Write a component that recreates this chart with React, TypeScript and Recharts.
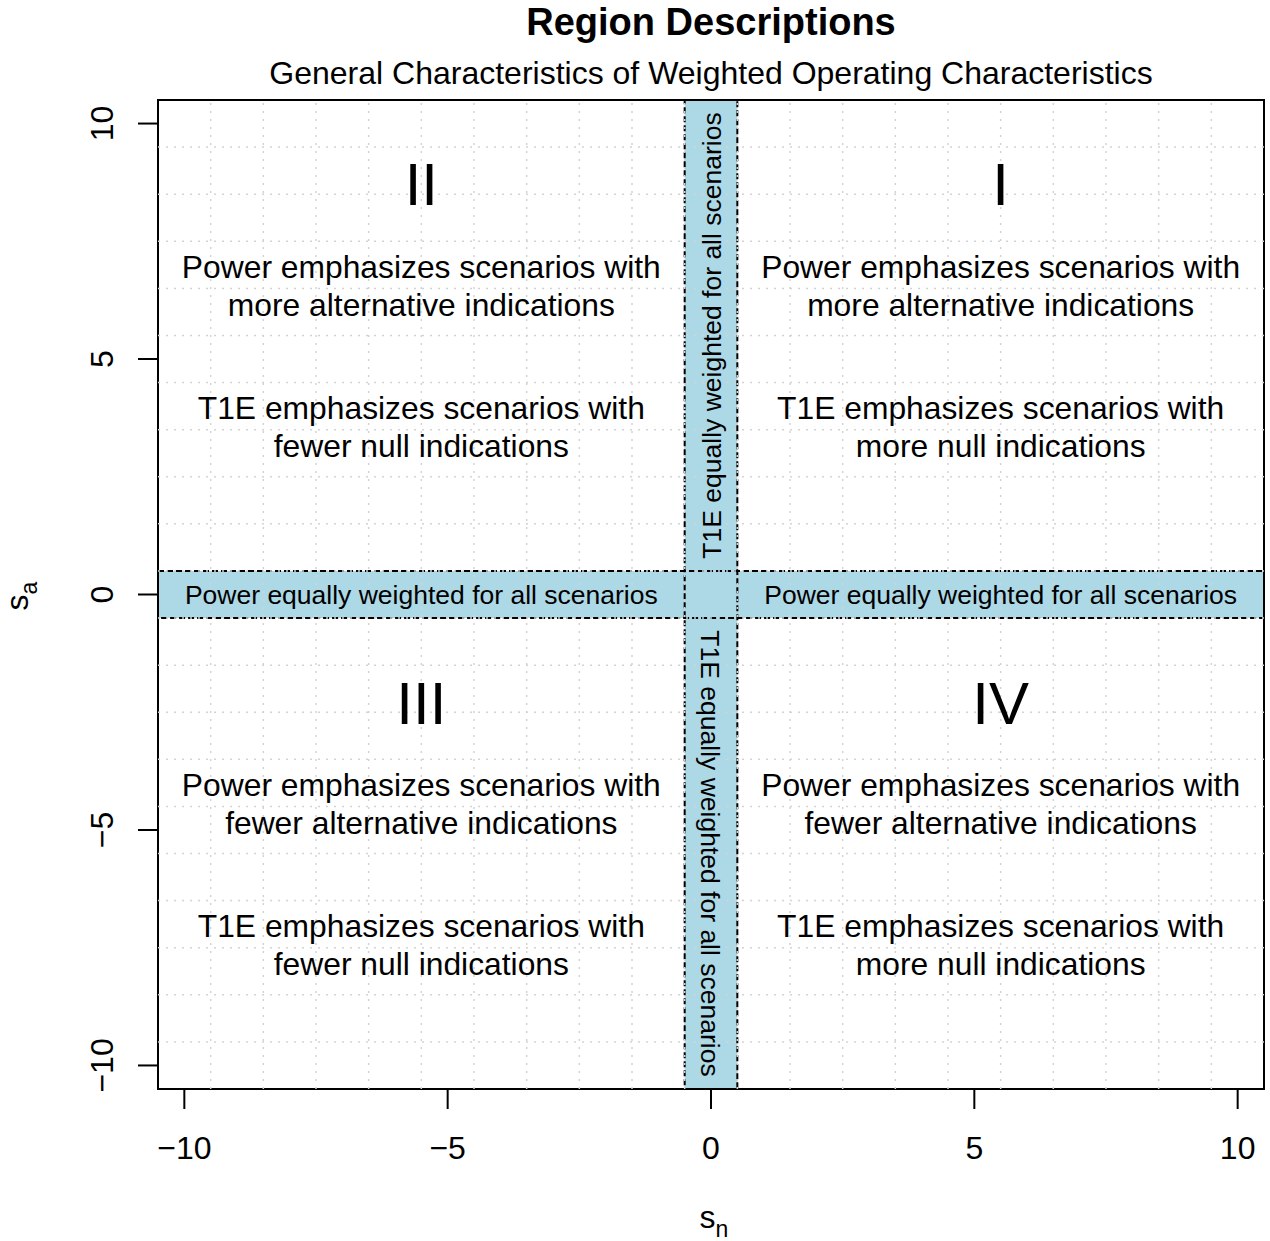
import {
  ComposedChart,
  Scatter,
  XAxis,
  YAxis,
  ReferenceArea,
  ReferenceLine,
} from "recharts"

const FONT = "'Liberation Sans', Arial, Helvetica, sans-serif"

const axisTicks = [-10, -5, 0, 5, 10]
const gridPoints = [
  -9.5, -8.5, -7.5, -6.5, -5.5, -4.5, -3.5, -2.5, -1.5, -0.5,
  0.5, 1.5, 2.5, 3.5, 4.5, 5.5, 6.5, 7.5, 8.5, 9.5,
]

// equal-weight bands (sn range, sa range)
const bands = [
  { x1: -0.5, x2: 0.5, y1: -10.5, y2: 10.5 },
  { x1: -10.5, x2: 10.5, y1: -0.5, y2: 0.5 },
]

// region numerals (cap centre, data units)
const numerals = [
  { sn: -5.5, sa: 8.72, text: "II" },
  { sn: 5.5, sa: 8.72, text: "I" },
  { sn: -5.5, sa: -2.29, text: "III" },
  { sn: 5.5, sa: -2.29, text: "IV" },
]

const descriptionLines = [
  { sn: -5.5, sa: 6.96, text: "Power emphasizes scenarios with" },
  { sn: -5.5, sa: 6.16, text: "more alternative indications" },
  { sn: -5.5, sa: 3.96, text: "T1E emphasizes scenarios with" },
  { sn: -5.5, sa: 3.16, text: "fewer null indications" },
  { sn: 5.5, sa: 6.96, text: "Power emphasizes scenarios with" },
  { sn: 5.5, sa: 6.16, text: "more alternative indications" },
  { sn: 5.5, sa: 3.96, text: "T1E emphasizes scenarios with" },
  { sn: 5.5, sa: 3.16, text: "more null indications" },
  { sn: -5.5, sa: -4.04, text: "Power emphasizes scenarios with" },
  { sn: -5.5, sa: -4.84, text: "fewer alternative indications" },
  { sn: -5.5, sa: -7.04, text: "T1E emphasizes scenarios with" },
  { sn: -5.5, sa: -7.84, text: "fewer null indications" },
  { sn: 5.5, sa: -4.04, text: "Power emphasizes scenarios with" },
  { sn: 5.5, sa: -4.84, text: "fewer alternative indications" },
  { sn: 5.5, sa: -7.04, text: "T1E emphasizes scenarios with" },
  { sn: 5.5, sa: -7.84, text: "more null indications" },
]

const bandLabels = [
  { sn: -5.5, sa: 0, rotate: 0, text: "Power equally weighted for all scenarios" },
  { sn: 5.5, sa: 0, rotate: 0, text: "Power equally weighted for all scenarios" },
  { sn: 0, sa: 5.5, rotate: -90, text: "T1E equally weighted for all scenarios" },
  { sn: 0, sa: -5.5, rotate: 90, text: "T1E equally weighted for all scenarios" },
]

const makeLabel = (size: number) => (props: any) => {
  const { cx, cy, payload } = props
  const rot = payload.rotate ?? 0
  return (
    <text
      x={cx}
      y={cy}
      dy="0.36em"
      textAnchor="middle"
      fontSize={size}
      fontFamily={FONT}
      fill="#000"
      transform={rot ? `rotate(${rot} ${cx} ${cy})` : undefined}
    >
      {payload.text}
    </text>
  )
}

const fmt = (v: number) => (v < 0 ? `\u2212${Math.abs(v)}` : `${v}`)

const XTick = (props: any) => {
  const { x, y, payload } = props
  return (
    <text x={x} y={y + 48} textAnchor="middle" fontSize={32} fontFamily={FONT} fill="#000">
      {fmt(payload.value)}
    </text>
  )
}

const YTick = (props: any) => {
  const { x, y, payload } = props
  const cx = x - 35
  return (
    <text
      x={cx}
      y={y}
      dy="0.36em"
      textAnchor="middle"
      fontSize={32}
      fontFamily={FONT}
      fill="#000"
      transform={`rotate(-90 ${cx} ${y})`}
    >
      {fmt(payload.value)}
    </text>
  )
}

export default function App() {
  return (
    <div style={{ position: "absolute", left: 0, top: 0, width: 1270, height: 1241, background: "#fff" }}>
      <ComposedChart
        width={1270}
        height={1241}
        margin={{ top: 100, right: 6, bottom: 92, left: 98 }}
      >
        <XAxis
          type="number"
          dataKey="sn"
          domain={[-10.5, 10.5]}
          ticks={axisTicks}
          interval={0}
          allowDataOverflow
          height={60}
          axisLine={false}
          tickSize={20}
          tickLine={{ stroke: "#000", strokeWidth: 2 }}
          tick={<XTick />}
        />
        <YAxis
          type="number"
          dataKey="sa"
          domain={[-10.5, 10.5]}
          ticks={axisTicks}
          interval={0}
          allowDataOverflow
          width={60}
          axisLine={false}
          tickSize={20}
          tickLine={{ stroke: "#000", strokeWidth: 2 }}
          tick={<YTick />}
        />
        {bands.map((b, i) => (
          <ReferenceArea key={`bf${i}`} {...b} fill="#ADD8E6" fillOpacity={1} stroke="none" />
        ))}
        {bands.map((b, i) => (
          <ReferenceArea
            key={`bb${i}`}
            {...b}
            fill="none"
            stroke="#000"
            strokeWidth={2}
            strokeDasharray="6 3"
          />
        ))}
        {gridPoints.map((v) => (
          <ReferenceLine key={`gx${v}`} x={v} stroke="#D3D3D3" strokeWidth={1.5} strokeDasharray="2 6" />
        ))}
        {gridPoints.map((v) => (
          <ReferenceLine key={`gy${v}`} y={v} stroke="#D3D3D3" strokeWidth={1.5} strokeDasharray="2 6" />
        ))}
        <ReferenceArea
          x1={-10.5}
          x2={10.5}
          y1={-10.5}
          y2={10.5}
          fill="none"
          stroke="#000"
          strokeWidth={2}
        />
        <Scatter data={bandLabels} shape={makeLabel(26.5)} isAnimationActive={false} />
        <Scatter data={descriptionLines} shape={makeLabel(31.8)} isAnimationActive={false} />
        <Scatter data={numerals} shape={makeLabel(60)} isAnimationActive={false} />
      </ComposedChart>
      <svg
        width={1270}
        height={1241}
        style={{ position: "absolute", left: 0, top: 0, pointerEvents: "none" }}
      >
        <text x={711} y={35} textAnchor="middle" fontSize={38} fontWeight="bold" fontFamily={FONT}>
          Region Descriptions
        </text>
        <text x={711} y={84} textAnchor="middle" fontSize={32} fontFamily={FONT}>
          General Characteristics of Weighted Operating Characteristics
        </text>
        <text x={714} y={1228} textAnchor="middle" fontSize={32} fontFamily={FONT}>
          s<tspan dy={9} fontSize={23}>n</tspan>
        </text>
        <text
          x={28}
          y={596}
          textAnchor="middle"
          fontSize={32}
          fontFamily={FONT}
          transform="rotate(-90 28 596)"
        >
          s<tspan dy={9} fontSize={23}>a</tspan>
        </text>
      </svg>
    </div>
  )
}
